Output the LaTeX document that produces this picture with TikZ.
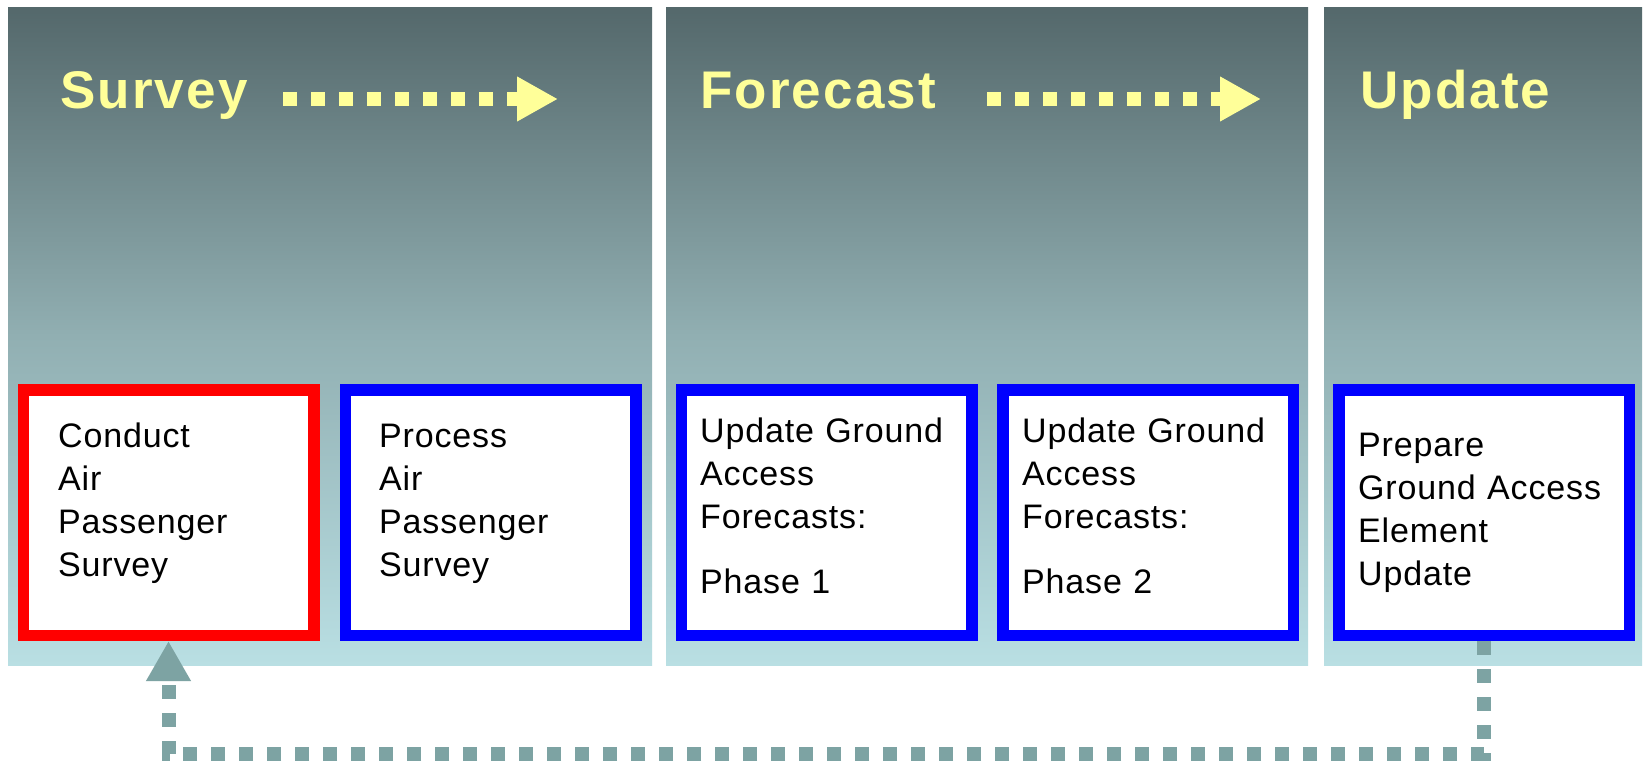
\documentclass[tikz,border=0pt]{standalone}
\usepackage{fontspec}
\setmainfont{Liberation Sans}
\newfontfamily\titlefont[LetterSpace=4]{Liberation Sans}
\newfontfamily\boxfont[LetterSpace=2.5]{Liberation Sans}
\usetikzlibrary{arrows.meta,positioning}

\definecolor{panelTop}{RGB}{84,104,107}
\definecolor{panelMid}{RGB}{145,175,178}
\definecolor{panelBot}{RGB}{185,223,227}
\definecolor{titleYellow}{RGB}{255,255,153}
\definecolor{loopGrey}{RGB}{125,163,163}

\tikzset{
	panel/.style={top color=panelTop, bottom color=panelBot, middle color=panelMid},
	phase/.style={text=titleYellow, font=\titlefont\fontsize{53}{60}\selectfont\bfseries, inner sep=0pt, anchor=base west},
	phasearrow/.style={titleYellow, line width=14pt, dash pattern=on 14pt off 14pt, -{Triangle[width=42pt,length=41pt]}},
	taskbox/.style={draw, line width=11.5pt, fill=white, minimum width=290.5pt, minimum height=245.5pt, inner sep=0pt},
	tasktext/.style={font=\boxfont\fontsize{34}{43}\selectfont, text width=280pt, align=left, inner sep=0pt, anchor=base west},
	loopline/.style={loopGrey, line width=14pt, dash pattern=on 14pt off 14pt, -{Triangle[width=42pt,length=40pt]}}
}

\begin{document}
\begin{tikzpicture}[x=1pt,y=-1pt]
	% 画布大小 1646 x 763
	\fill[white] (0,0) rectangle (1646,763);
	\useasboundingbox (0,0) rectangle (1646,763);

	% 三个渐变背景面板
	\shade[panel] (8,7) rectangle (652,665);
	\shade[panel] (666,7) rectangle (1308,665);
	\shade[panel] (1324,7) rectangle (1642,665);

	% 面板标题
	\node[phase] (survey) at (60,108) {Survey};
	\node[phase] (forecast) at (700,108) {Forecast};
	\node[phase] (update) at (1360,108) {Update};

	% 标题后的点线箭头
	\coordinate (s1) at (283,99);
	\coordinate (s2) at (558,99);
	\draw[phasearrow] (s1) -- (s2);
	\coordinate (f1) at (987,99);
	\coordinate (f2) at (1261,99);
	\draw[phasearrow] (f1) -- (f2);

	% 任务方框
	\node[taskbox, draw=red] (b1) at (168.5,512.5) {};
	\node[taskbox, draw=blue] (b2) at (490.5,512.5) {};
	\node[taskbox, draw=blue] (b3) at (826.5,512.5) {};
	\node[taskbox, draw=blue] (b4) at (1148,512.5) {};
	\node[taskbox, draw=blue] (b5) at (1484,512.5) {};

	% 方框内文字
	\node[tasktext] (t1) at (58,447) {Conduct\\Air\\Passenger\\Survey};
	\node[tasktext] (t2) at (379,447) {Process\\Air\\Passenger\\Survey};
	\node[tasktext] (t3) at (700,442) {Update Ground\\Access\\Forecasts:\\[22pt]Phase 1};
	\node[tasktext] (t4) at (1022,442) {Update Ground\\Access\\Forecasts:\\[22pt]Phase 2};
	\node[tasktext] (t5) at (1358,456) {Prepare\\Ground Access\\Element\\Update};

	% 回到调查的虚线回路
	\draw[loopline] (b5.south) -- ++(0,113) -| (b1.south);
\end{tikzpicture}
\end{document}
